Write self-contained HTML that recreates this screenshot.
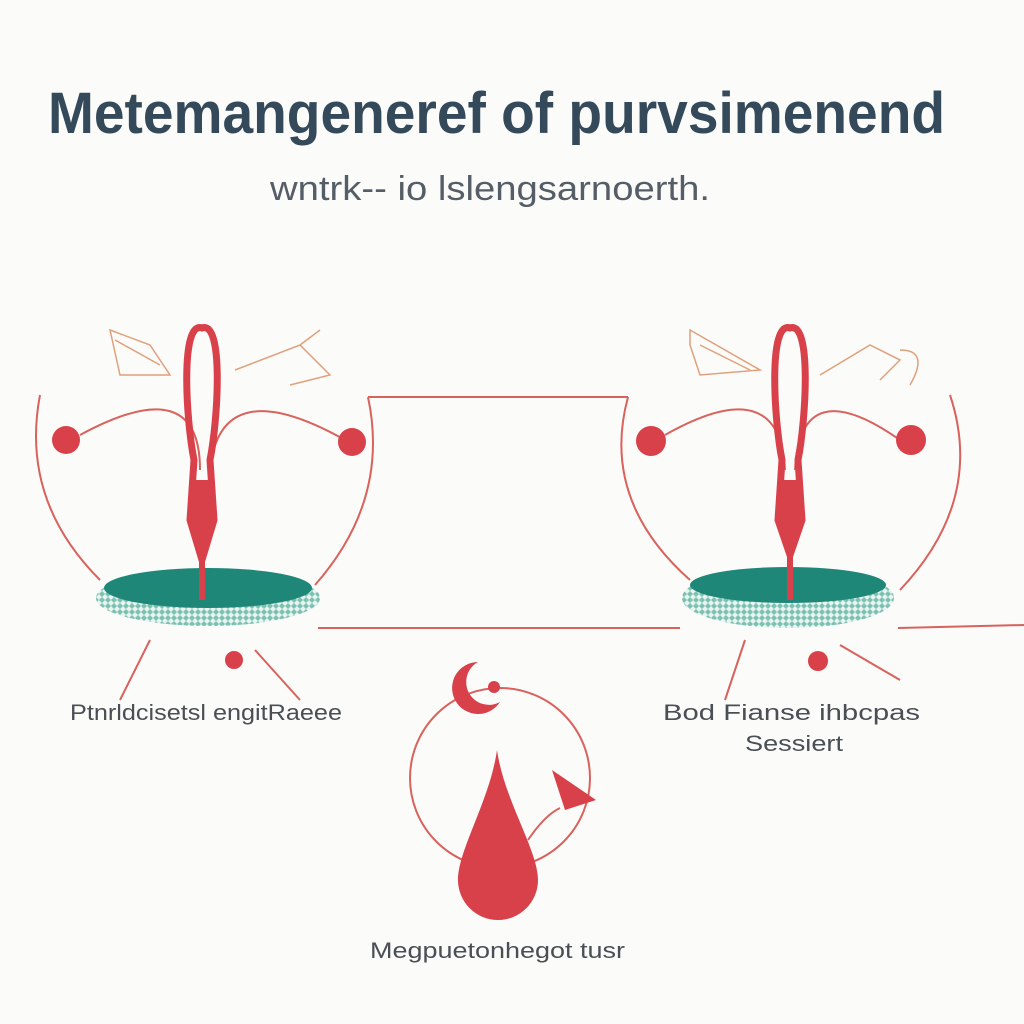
<!DOCTYPE html>
<html><head><meta charset="utf-8"><style>
html,body{margin:0;padding:0;background:#fbfbfa;}
svg{display:block}
text{font-family:"Liberation Sans",sans-serif}
</style></head><body>
<svg width="1024" height="1024" viewBox="0 0 1024 1024">
<defs>
<pattern id="knit" width="6" height="6" patternUnits="userSpaceOnUse">
<rect width="6" height="6" fill="#7cc2b2"/>
<path d="M0 3 L3 0 L6 3 L3 6Z" fill="#e9f3ef"/>
</pattern>
</defs>
<rect width="1024" height="1024" fill="#fbfbfa"/>
<text x="48" y="133" font-size="58" font-weight="bold" fill="#34495a" textLength="897" lengthAdjust="spacingAndGlyphs">Metemangeneref of purvsimenend</text>
<text x="270" y="200" font-size="34" fill="#555d66" textLength="440" lengthAdjust="spacingAndGlyphs">wntrk-- io lslengsarnoerth.</text>

<g fill="none" stroke="#d9625c" stroke-width="2">
<path d="M368 397 L628 397"/>
<path d="M318 628 L680 628"/>
<path d="M898 628 L1024 625"/>
</g>

<g>
<g fill="none" stroke="#d9625c" stroke-width="2">
<path d="M40 395 Q20 500 100 580"/>
<path d="M368 397 Q390 500 315 585"/>
<path d="M80 435 Q200 370 200 470"/>
<path d="M345 440 Q220 370 210 470"/>
<path d="M150 640 L120 700"/><path d="M255 650 L300 700"/>
</g>
<g fill="none" stroke="#e0a07a" stroke-width="1.5">
<path d="M110 330 L150 345 L170 375 L120 375 Z M115 340 L160 365"/>
<path d="M235 370 L300 345 L330 375 L290 385 M300 345 L320 330"/>
</g>
<circle cx="66" cy="440" r="14" fill="#d9414a"/>
<circle cx="352" cy="442" r="14" fill="#d9414a"/>
<circle cx="234" cy="660" r="9" fill="#d9414a"/>
<ellipse cx="208" cy="598" rx="112" ry="28" fill="url(#knit)"/>
<ellipse cx="208" cy="588" rx="104" ry="20" fill="#1f8778"/>
<path d="M202 328 C180 320 186 420 194 460 L190 520 L202 560 L214 520 L210 460 C218 420 224 320 202 328Z" fill="none" stroke="#d9414a" stroke-width="7"/>
<path d="M190 480 L214 480 L212 530 L202 555 L192 530Z" fill="#d9414a"/>
<line x1="202" y1="550" x2="202" y2="600" stroke="#d9414a" stroke-width="6"/>
</g>
<text x="70" y="720" font-size="22" fill="#4a4f55" textLength="272" lengthAdjust="spacingAndGlyphs">Ptnrldcisetsl engitRaeee</text>

<g>
<g fill="none" stroke="#d9625c" stroke-width="2">
<path d="M628 397 Q600 500 690 580"/>
<path d="M950 395 Q985 500 900 590"/>
<path d="M665 435 Q780 370 785 470"/>
<path d="M900 440 Q800 370 795 470"/>
<path d="M745 640 L725 700"/><path d="M840 645 L900 680"/>
</g>
<g fill="none" stroke="#e0a07a" stroke-width="1.5">
<path d="M690 330 L760 370 L700 375 L690 345 Z M700 345 L750 370"/>
<path d="M820 375 L870 345 L900 360 L880 380 M900 350 Q930 350 910 385"/>
</g>
<circle cx="651" cy="441" r="15" fill="#d9414a"/>
<circle cx="911" cy="440" r="15" fill="#d9414a"/>
<circle cx="818" cy="661" r="10" fill="#d9414a"/>
<ellipse cx="788" cy="598" rx="106" ry="30" fill="url(#knit)"/>
<ellipse cx="788" cy="585" rx="98" ry="18" fill="#1f8778"/>
<path d="M790 328 C768 320 774 420 782 460 L778 520 L790 555 L802 520 L798 460 C806 420 812 320 790 328Z" fill="none" stroke="#d9414a" stroke-width="7"/>
<path d="M778 480 L802 480 L800 530 L790 550 L780 530Z" fill="#d9414a"/>
<line x1="790" y1="545" x2="790" y2="600" stroke="#d9414a" stroke-width="6"/>
</g>
<text x="663" y="720" font-size="22" fill="#4a4f55" textLength="257" lengthAdjust="spacingAndGlyphs">Bod Fianse ihbcpas</text>
<text x="745" y="751" font-size="22" fill="#4a4f55" textLength="98" lengthAdjust="spacingAndGlyphs">Sessiert</text>

<g>
<circle cx="500" cy="778" r="90" fill="none" stroke="#d9625c" stroke-width="2"/>
<path d="M478 662 A26 26 0 1 0 500 702 A20 20 0 1 1 478 662Z" fill="#d9414a"/>
<circle cx="494" cy="687" r="6" fill="#d9414a"/>
<path d="M497 750 C490 800 458 850 458 880 A40 40 0 0 0 538 880 C538 850 504 800 497 750Z" fill="#d9414a"/>
<path d="M552 770 L596 800 L565 810 Z" fill="#d9414a"/>
<path d="M528 840 Q545 815 560 808" fill="none" stroke="#d9625c" stroke-width="2"/>
</g>
<text x="370" y="958" font-size="22" fill="#4a4f55" textLength="255" lengthAdjust="spacingAndGlyphs">Megpuetonhegot tusr</text>
</svg>
</body></html>
